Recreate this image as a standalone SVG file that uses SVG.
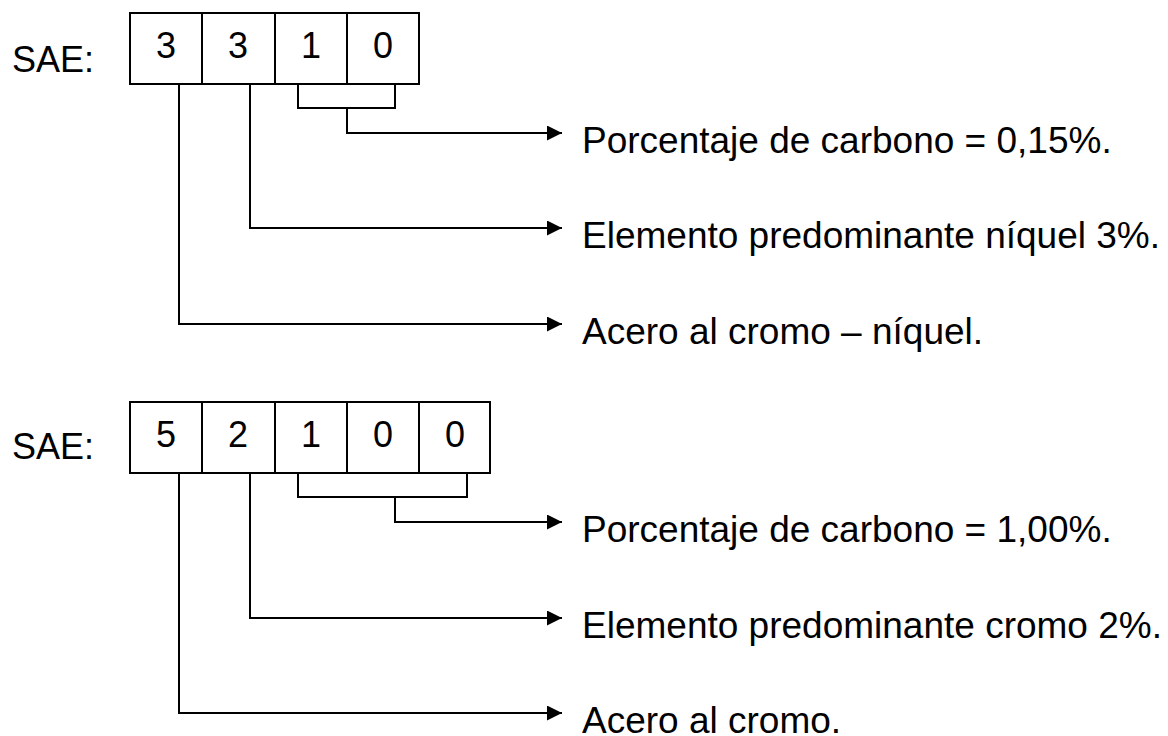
<svg xmlns="http://www.w3.org/2000/svg" width="1168" height="736" viewBox="0 0 1168 736">
<defs>
<marker id="ah" markerWidth="16" markerHeight="16" refX="15" refY="7.5" orient="auto" markerUnits="userSpaceOnUse">
<path d="M0,0 L15,7.5 L0,15 Z" fill="#000"/>
</marker>
<style>
.t{font-family:"Liberation Sans",Arial,sans-serif;font-size:36px;fill:#000}
.d{font-family:"Liberation Sans",Arial,sans-serif;font-size:36px;fill:#000;text-anchor:middle}
.l{font-family:"Liberation Sans",Arial,sans-serif;font-size:37px;fill:#000}
.b{fill:#fff;stroke:#000;stroke-width:2}
.c{fill:none;stroke:#000;stroke-width:2}
.a{fill:none;stroke:#000;stroke-width:2;marker-end:url(#ah)}
</style>
</defs>
<rect width="1168" height="736" fill="#fff"/>
<g id="code1">
<text class="t" x="12" y="72">SAE:</text>
<rect class="b" x="130" y="13" width="72" height="71"/>
<rect class="b" x="202" y="13" width="73" height="71"/>
<rect class="b" x="275" y="13" width="72" height="71"/>
<rect class="b" x="347" y="13" width="72" height="71"/>
<text class="d" x="166" y="58">3</text>
<text class="d" x="238" y="58">3</text>
<text class="d" x="311" y="58">1</text>
<text class="d" x="383" y="58">0</text>
</g>
<g id="code2">
<text class="t" x="12" y="459">SAE:</text>
<rect class="b" x="130" y="402" width="72" height="71"/>
<rect class="b" x="202" y="402" width="73" height="71"/>
<rect class="b" x="275" y="402" width="72" height="71"/>
<rect class="b" x="347" y="402" width="72" height="71"/>
<rect class="b" x="419" y="402" width="71" height="71"/>
<text class="d" x="166" y="447">5</text>
<text class="d" x="238" y="447">2</text>
<text class="d" x="311" y="447">1</text>
<text class="d" x="383" y="447">0</text>
<text class="d" x="455" y="447">0</text>
</g>
<g id="connectors">
<path class="c" d="M298,84 V108 H395 V84"/>
<path class="a" d="M347,108 V133 H562"/>
<path class="a" d="M250,84 V228 H562"/>
<path class="a" d="M179,84 V324 H562"/>
<path class="c" d="M298,473 V497 H467 V473"/>
<path class="a" d="M395,497 V522 H562"/>
<path class="a" d="M250,473 V618 H562"/>
<path class="a" d="M179,473 V713 H562"/>
</g>
<g id="labels1">
<text class="l" x="582" y="153">Porcentaje de carbono = 0,15%.</text>
<text class="l" x="582" y="248">Elemento predominante níquel 3%.</text>
<text class="l" x="582" y="344">Acero al cromo – níquel.</text>
</g>
<g id="labels2">
<text class="l" x="582" y="542">Porcentaje de carbono = 1,00%.</text>
<text class="l" x="582" y="638">Elemento predominante cromo 2%.</text>
<text class="l" x="582" y="733">Acero al cromo.</text>
</g>
</svg>
